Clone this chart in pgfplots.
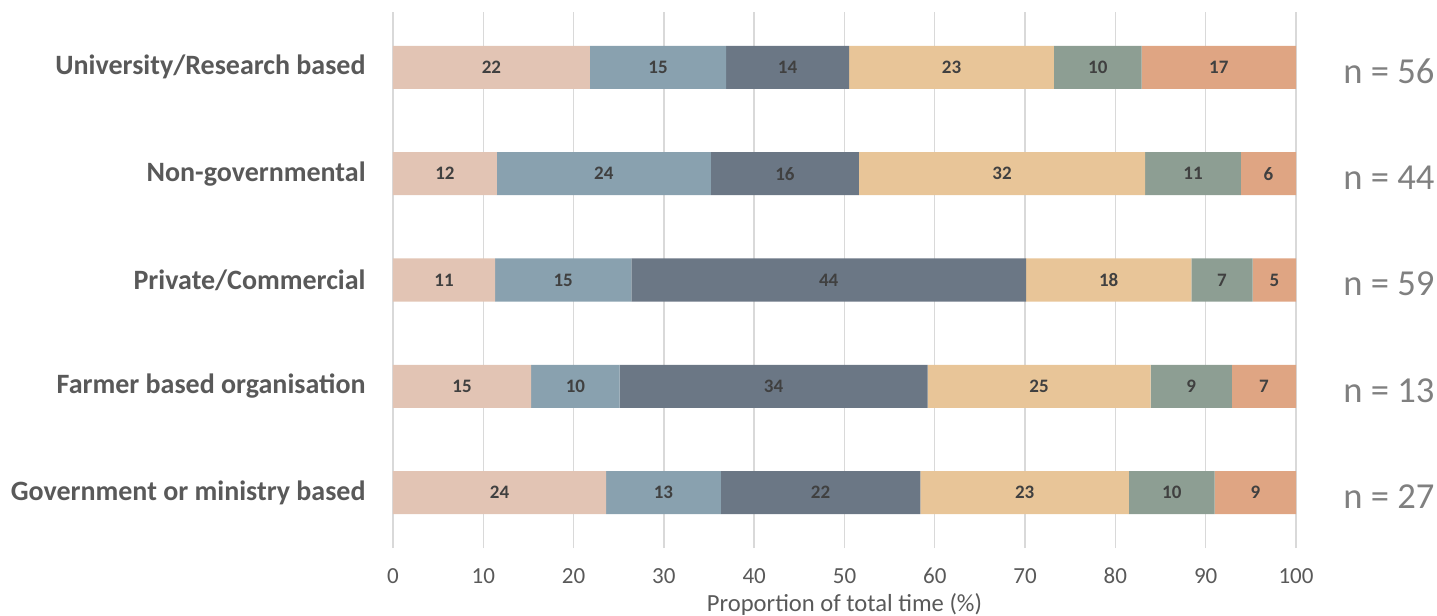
\documentclass[border=0pt]{standalone}
\usepackage{fontspec}
\setmainfont{Carlito}
\usepackage{pgfplots}
\usepackage{pgfplotstable}
\pgfplotsset{compat=1.18}
\definecolor{c1}{HTML}{E2C4B4}
\definecolor{c2}{HTML}{89A1AF}
\definecolor{c3}{HTML}{6B7785}
\definecolor{c4}{HTML}{E8C598}
\definecolor{c5}{HTML}{8D9E93}
\definecolor{c6}{HTML}{DFA583}
\definecolor{gridc}{HTML}{D9D9D9}
\definecolor{tickc}{HTML}{595959}
\definecolor{labc}{HTML}{404040}
\definecolor{nc}{HTML}{808080}
\tikzset{nlab/.style={anchor=west, inner sep=0pt, text=nc, font=\fontsize{18.3bp}{19bp}\selectfont, xshift=23.5bp, yshift=-2bp}}
\pgfplotstableread{
y x lab
4 21.8 22
3 11.5 12
2 11.3 11
1 15.3 15
0 23.6 24
}\sA
\pgfplotstableread{
y x lab
4 15.1 15
3 23.7 24
2 15.1 15
1 9.8 10
0 12.7 13
}\sB
\pgfplotstableread{
y x lab
4 13.6 14
3 16.4 16
2 43.7 44
1 34.1 34
0 22.1 22
}\sC
\pgfplotstableread{
y x lab
4 22.7 23
3 31.7 32
2 18.3 18
1 24.7 25
0 23.1 23
}\sD
\pgfplotstableread{
y x lab
4 9.7 10
3 10.6 11
2 6.8 7
1 9.0 9
0 9.5 10
}\sE
\pgfplotstableread{
y x lab
4 17.1 17
3 6.1 6
2 4.8 5
1 7.1 7
0 9.0 9
}\sF
\begin{document}
\begin{tikzpicture}
\begin{axis}[
  xbar stacked,
  scale only axis,
  width=451.5bp, height=268bp,
  xmin=0, xmax=100, ymin=-0.52, ymax=4.52,
  bar width=0.405,
  clip=false,
  axis line style={draw=none},
  major tick length=0pt,
  xtick={0,10,...,100},
  ytick={0,1,2,3,4},
  yticklabels={Government or ministry based, Farmer based organisation, Private/Commercial, Non-governmental, University/Research based},
  xmajorgrids,
  grid style={color=gridc, line width=0.7bp},
  /pgf/number format/assume math mode=true,
  xticklabel style={font=\fontsize{11.5bp}{12bp}\selectfont, text=tickc, anchor=base, inner sep=0pt, yshift=-17.5bp},
  yticklabel style={font=\bfseries\fontsize{14bp}{15bp}\selectfont, text=tickc, anchor=east, inner sep=0pt, xshift=-13.5bp},
  xlabel={Proportion of total time (\%)},
  xlabel style={at={(axis description cs:0.5,0)}, anchor=base, inner sep=0pt, yshift=-31.5bp, font=\fontsize{12.3bp}{13bp}\selectfont, text=tickc},
  nodes near coords,
  point meta=explicit symbolic,
  every node near coord/.append style={font=\bfseries\fontsize{9.5bp}{10bp}\selectfont, text=labc, anchor=center, inner sep=0pt},
]
\addplot[fill=c1, draw=none] table[x=x, y=y, meta=lab]{\sA};
\addplot[fill=c2, draw=none] table[x=x, y=y, meta=lab]{\sB};
\addplot[fill=c3, draw=none] table[x=x, y=y, meta=lab]{\sC};
\addplot[fill=c4, draw=none] table[x=x, y=y, meta=lab]{\sD};
\addplot[fill=c5, draw=none] table[x=x, y=y, meta=lab]{\sE};
\addplot[fill=c6, draw=none] table[x=x, y=y, meta=lab]{\sF};
\coordinate (sw) at (rel axis cs:0,0);
\node[nlab] at (axis cs:100,4) {n = 56};
\node[nlab] at (axis cs:100,3) {n = 44};
\node[nlab] at (axis cs:100,2) {n = 59};
\node[nlab] at (axis cs:100,1) {n = 13};
\node[nlab] at (axis cs:100,0) {n = 27};
\end{axis}
\pgfresetboundingbox
\path[use as bounding box] ([shift={(-196.5bp,-34bp)}]sw) rectangle ++(718.5bp,308bp);
\end{tikzpicture}
\end{document}
